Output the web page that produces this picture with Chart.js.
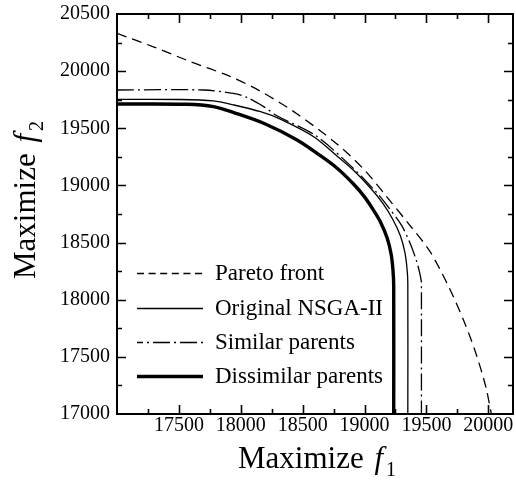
<!DOCTYPE html>
<html><head><meta charset="utf-8">
<script src="https://cdn.jsdelivr.net/npm/chart.js@4.4.0/dist/chart.umd.min.js"></script>
<style>html,body{margin:0;padding:0;background:#fff;}</style>
</head><body>
<canvas id="c" width="516" height="481"></canvas>
<script>
// ---- data ----
const seriesNames = ['Pareto front', 'Original NSGA-II', 'Similar parents', 'Dissimilar parents'];

const paretoX = [17000, 17300, 17600, 17900, 18150, 18450, 18780, 19000, 19180, 19360, 19530, 19680, 19800, 19900, 19980, 20025];
const paretoY = [20330, 20210, 20080, 19960, 19830, 19630, 19360, 19135, 18900, 18660, 18420, 18114, 17822, 17531, 17239, 17000];

const originalX = [17000, 17500, 17780, 17940, 18160, 18320, 18590, 18780, 18913, 19050, 19150, 19230, 19290, 19325, 19343, 19350, 19350];
const originalY = [19753, 19752, 19740, 19705, 19645, 19580, 19426, 19255, 19130, 18975, 18840, 18700, 18560, 18420, 18280, 18150, 17000];

const similarX = [17000, 17700, 17940, 18050, 18185, 18300, 18600, 18900, 19100, 19200, 19300, 19370, 19420, 19445, 19458, 19460, 19460];
const similarY = [19835, 19835, 19805, 19770, 19690, 19605, 19440, 19160, 18935, 18800, 18650, 18490, 18340, 18240, 18170, 18150, 17000];

const dissimilarX = [17000, 17560, 17780, 17950, 18185, 18455, 18644, 18779, 18913, 19000, 19075, 19129, 19183, 19215, 19230, 19236, 19236];
const dissimilarY = [19712, 19710, 19690, 19635, 19544, 19398, 19260, 19150, 19010, 18900, 18780, 18680, 18540, 18400, 18260, 18120, 17000];

const xMin = 17000, xMax = 20200;
const yMin = 17000, yMax = 20500;
const xTickValues = [17500, 18000, 18500, 19000, 19500, 20000];
const yTickValues = [17000, 17500, 18000, 18500, 19000, 19500, 20000, 20500];
const minorStep = 250;

function pts(xs, ys) { return xs.map((x, i) => ({ x: x, y: ys[i] })); }

const FONT = "'Liberation Serif', 'Times New Roman', serif";

const styles = [
  { dash: [10, 6], width: 1.3, legendDash: [7, 4.6], legendOffset: 0 },
  { dash: [], width: 1.3, legendDash: [], legendOffset: 0 },
  { dash: [17, 4, 2, 4], width: 1.3, legendDash: [17, 4, 2, 4], legendOffset: 11 },
  { dash: [], width: 3.4, legendDash: [], legendOffset: 0 }
];
const seriesData = [pts(paretoX, paretoY), pts(originalX, originalY), pts(similarX, similarY), pts(dissimilarX, dissimilarY)];

const datasets = seriesData.map((d, i) => ({
  label: seriesNames[i],
  data: d,
  showLine: true,
  borderColor: '#000',
  backgroundColor: '#000',
  borderWidth: styles[i].width,
  borderDash: styles[i].dash,
  pointRadius: 0,
  pointHoverRadius: 0,
  tension: 0.3,
  fill: false
}));

const framePlugin = {
  id: 'frame',
  afterDraw(chart) {
    const ctx = chart.ctx;
    const a = chart.chartArea;
    const xs = chart.scales.x, ys = chart.scales.y;
    ctx.save();
    ctx.strokeStyle = '#000';
    ctx.setLineDash([]);
    // ticks (inward, on all four sides)
    ctx.lineWidth = 1.6;
    ctx.beginPath();
    for (let v = xMin + minorStep; v < xMax; v += minorStep) {
      const p = Math.round(xs.getPixelForValue(v)) + 0.5;
      const len = (v % 500 === 0) ? 9 : 5;
      ctx.moveTo(p, a.bottom); ctx.lineTo(p, a.bottom - len);
      ctx.moveTo(p, a.top); ctx.lineTo(p, a.top + len);
    }
    for (let v = yMin + minorStep; v < yMax; v += minorStep) {
      const p = Math.round(ys.getPixelForValue(v)) + 0.5;
      const len = (v % 500 === 0) ? 9 : 5;
      ctx.moveTo(a.left, p); ctx.lineTo(a.left + len, p);
      ctx.moveTo(a.right, p); ctx.lineTo(a.right - len, p);
    }
    ctx.stroke();
    // frame
    ctx.lineWidth = 2;
    ctx.strokeRect(a.left, a.top, a.right - a.left, a.bottom - a.top);

    // legend
    const rows = [273, 308, 342, 376];
    chart.data.datasets.forEach((ds, i) => {
      const y = rows[i] + 0.5;
      ctx.beginPath();
      ctx.lineWidth = ds.borderWidth;
      ctx.setLineDash(styles[i].legendDash);
      ctx.lineDashOffset = styles[i].legendOffset;
      ctx.moveTo(137, y); ctx.lineTo(203, y);
      ctx.stroke();
      ctx.setLineDash([]);
      ctx.lineDashOffset = 0;
      ctx.fillStyle = '#000';
      ctx.font = '23px ' + FONT;
      ctx.textBaseline = 'middle';
      ctx.textAlign = 'left';
      ctx.fillText(ds.label, 215, rows[i] + 1);
    });

    // axis titles: "Maximize f1" / "Maximize f2"
    function title(sub, cx, baseY) {
      ctx.textBaseline = 'alphabetic';
      ctx.textAlign = 'left';
      ctx.font = '31px ' + FONT;
      const w1 = ctx.measureText('Maximize ').width + 3;
      ctx.font = 'italic 31px ' + FONT;
      const w2 = ctx.measureText('f').width;
      ctx.font = '20px ' + FONT;
      const w3 = ctx.measureText(sub).width;
      const total = w1 + w2 + 3 + w3;
      let x = cx - total / 2;
      ctx.font = '31px ' + FONT;
      ctx.fillText('Maximize', x, baseY);
      x += w1;
      ctx.font = 'italic 31px ' + FONT;
      ctx.fillText('f', x, baseY);
      x += w2 + 3;
      ctx.font = '20px ' + FONT;
      ctx.fillText(sub, x, baseY + 8);
    }
    ctx.fillStyle = '#000';
    title('1', 317, 468);
    ctx.save();
    ctx.translate(35, 200);
    ctx.rotate(-Math.PI / 2);
    title('2', 0, 0);
    ctx.restore();
    ctx.restore();
  }
};

new Chart(document.getElementById('c'), {
  type: 'scatter',
  data: { datasets: datasets },
  plugins: [framePlugin],
  options: {
    responsive: false,
    animation: false,
    devicePixelRatio: 1,
    layout: { padding: { top: 14, right: 3, left: 0, bottom: 0 } },
    plugins: { legend: { display: false }, tooltip: { enabled: false } },
    scales: {
      x: {
        type: 'linear', min: xMin, max: xMax,
        grid: { display: false, drawTicks: false },
        border: { display: false },
        afterBuildTicks: function (s) { s.ticks = xTickValues.map(v => ({ value: v })); },
        ticks: {
          padding: 0, color: '#000', maxRotation: 0, minRotation: 0, autoSkip: false,
          font: { family: FONT, size: 20 },
          callback: function (v) { return String(v); }
        },
        afterFit: function (s) { s.height = 67; s.paddingLeft = 0; s.paddingRight = 0; }
      },
      y: {
        type: 'linear', min: yMin, max: yMax,
        grid: { display: false, drawTicks: false },
        border: { display: false },
        afterBuildTicks: function (s) { s.ticks = yTickValues.map(v => ({ value: v })); },
        ticks: {
          padding: 7, color: '#000', autoSkip: false,
          font: { family: FONT, size: 20 },
          callback: function (v) { return String(v); }
        },
        afterFit: function (s) { s.width = 117; s.paddingTop = 0; s.paddingBottom = 0; }
      }
    }
  }
});
</script>
</body></html>
